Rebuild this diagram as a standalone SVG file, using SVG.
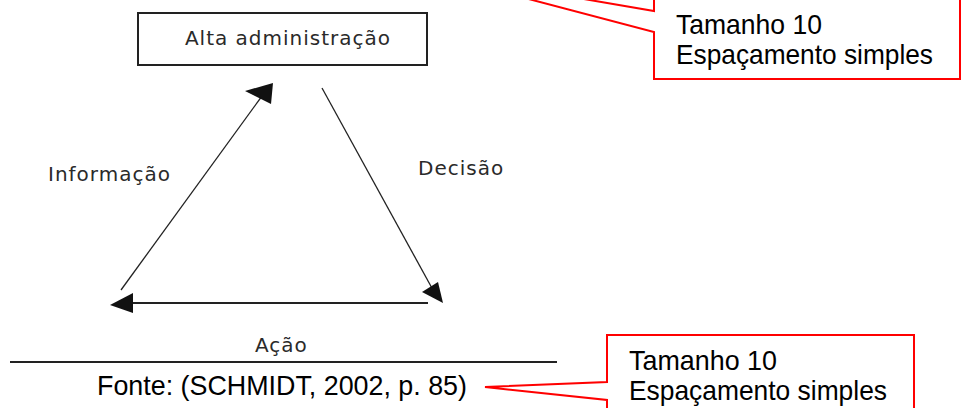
<svg xmlns="http://www.w3.org/2000/svg" width="966" height="408" viewBox="0 0 966 408">
<style>
.dia{font-family:"DejaVu Sans",sans-serif;font-size:20px;letter-spacing:1px;fill:#2a2a2a}
.cap{font-family:"Liberation Sans",Arial,sans-serif;font-size:28px;fill:#000}
.callout{fill:#fff;stroke:#ff0000;stroke-width:2}
.ln{stroke:#222;fill:none}
.head{fill:#111}
</style>
<rect width="966" height="408" fill="#fff"/>
<g id="callout-top">
<path class="callout" d="M654 -10 L960 -10 L960 79 L654 79 L654 32 L426 -28 L654 11 Z"/>
<text class="cap" x="676" y="34" textLength="146" lengthAdjust="spacingAndGlyphs">Tamanho 10</text>
<text class="cap" x="676" y="64" textLength="257" lengthAdjust="spacingAndGlyphs">Espaçamento simples</text>
</g>
<g id="node-alta">
<rect x="138" y="13" width="289" height="52" fill="#fff" stroke="#222" stroke-width="2"/>
<text class="dia" x="288" y="45" text-anchor="middle">Alta administração</text>
</g>
<g id="connectors">
<line class="ln" x1="121" y1="290" x2="262" y2="96" stroke-width="1.3"/>
<polygon class="head" points="245,91 273,83 271,104"/>
<line class="ln" x1="322" y1="88" x2="433" y2="290" stroke-width="1.3"/>
<polygon class="head" points="422,292 438,282 443,303"/>
<line class="ln" x1="428" y1="303" x2="128" y2="303" stroke-width="2"/>
<polygon class="head" points="110,305 133,293 133,313"/>
</g>
<g id="label-informacao"><text class="dia" x="48" y="181">Informação</text></g>
<g id="label-decisao"><text class="dia" x="418" y="175">Decisão</text></g>
<g id="label-acao"><text class="dia" x="255" y="352">Ação</text></g>
<line x1="10" y1="362" x2="557" y2="362" stroke="#222" stroke-width="2"/>
<text class="cap" x="97" y="395" textLength="370" lengthAdjust="spacingAndGlyphs">Fonte: (SCHMIDT, 2002, p. 85)</text>
<g id="callout-bottom">
<path class="callout" d="M607 335 L914 335 L914 420 L607 420 L607 400 L485 387 L607 382 Z"/>
<text class="cap" x="629" y="370" textLength="148" lengthAdjust="spacingAndGlyphs">Tamanho 10</text>
<text class="cap" x="629" y="400" textLength="258" lengthAdjust="spacingAndGlyphs">Espaçamento simples</text>
</g>
</svg>
